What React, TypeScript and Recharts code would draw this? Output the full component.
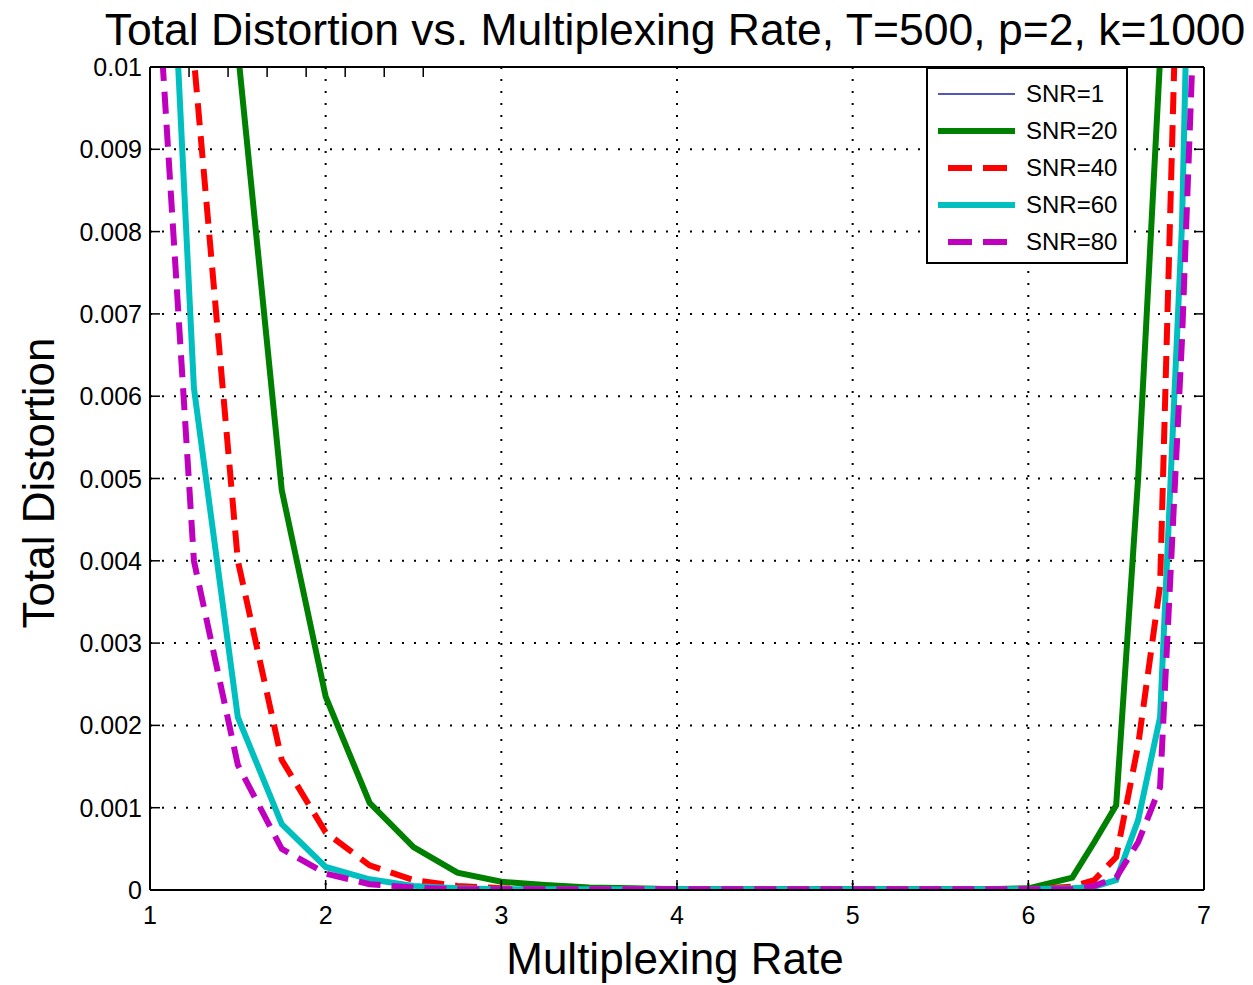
import React from 'react';
import { LineChart, Line, XAxis, YAxis, CartesianGrid, Legend } from 'recharts';

// sample points along the multiplexing rate axis
const multiplexingRate = [
  1, 1.25, 1.5, 1.75, 2, 2.25, 2.5, 2.75, 3, 3.25, 3.5, 3.75, 4, 4.25, 4.5, 4.75, 5, 5.25, 5.5, 5.75, 6, 6.25,
  6.375, 6.5, 6.625, 6.75, 6.875, 7,
];

// SNR=1 sits above 0.01 everywhere, so only its legend entry is visible
const snr20 = [
  0.09, 0.03, 0.0102, 0.00486, 0.00235, 0.00106, 0.00052, 0.00021, 0.0001, 0.00006, 0.00003, 0.00002, 0.00001,
  0.00001, 0.00001, 0.00001, 0.00001, 0.00001, 0.00001, 0.00001, 0.00002, 0.00015, 0.00058, 0.00103, 0.005, 0.0101,
  0.02, 0.04,
];
const snr40 = [
  0.03, 0.0101, 0.004, 0.00158, 0.0007, 0.0003, 0.00012, 0.00005, 0.00002, 0.00001, 0.00001, 0.00001, 0.00001,
  0.00001, 0.00001, 0.00001, 0.00001, 0.00001, 0.00001, 0.00001, 0.00001, 0.00004, 0.00012, 0.0004, 0.00176, 0.0037,
  0.0135, 0.04,
];
const snr60 = [
  0.017, 0.0061, 0.0021, 0.0008, 0.00028, 0.00013, 0.00005, 0.00002, 0.00001, 0.00001, 0.00001, 0.00001, 0.00001,
  0.00001, 0.00001, 0.00001, 0.00001, 0.00001, 0.00001, 0.00001, 0.00001, 0.00002, 0.00004, 0.00012, 0.00085, 0.0021,
  0.0081, 0.02,
];
const snr80 = [
  0.0125, 0.004, 0.00152, 0.0005, 0.0002, 0.00007, 0.00003, 0.00001, 0.00001, 0.00001, 0.00001, 0.00001, 0.00001,
  0.00001, 0.00001, 0.00001, 0.00001, 0.00001, 0.00001, 0.00001, 0.00001, 0.00001, 0.00005, 0.00015, 0.00058, 0.00125,
  0.0067, 0.0139,
];

const xTicks = [1, 2, 3, 4, 5, 6, 7];
const yTicks = [0, 0.001, 0.002, 0.003, 0.004, 0.005, 0.006, 0.007, 0.008, 0.009, 0.01];
const yTickLabels = ['0', '0.001', '0.002', '0.003', '0.004', '0.005', '0.006', '0.007', '0.008', '0.009', '0.01'];

const data = multiplexingRate.map((rate, i) => ({
  rate,
  snr20: snr20[i],
  snr40: snr40[i],
  snr60: snr60[i],
  snr80: snr80[i],
}));

const series = [
  { key: 'snr1', name: 'SNR=1', color: '#1c1ca8', width: 1.5, dash: undefined as string | undefined },
  { key: 'snr20', name: 'SNR=20', color: '#008000', width: 6, dash: undefined },
  { key: 'snr40', name: 'SNR=40', color: '#ff0000', width: 6, dash: '22 11' },
  { key: 'snr60', name: 'SNR=60', color: '#00bfbf', width: 6, dash: undefined },
  { key: 'snr80', name: 'SNR=80', color: '#bf00bf', width: 6, dash: '22 11' },
];

const FONT = '"Liberation Sans", Arial, Helvetica, sans-serif';
const TICK_IN = 10;

const LeftTick = (props: any) => {
  const { x, y, payload } = props;
  const idx = yTicks.indexOf(payload.value);
  return (
    <g>
      <line x1={x} x2={x + TICK_IN} y1={y} y2={y} stroke="#000" strokeWidth={1.5} />
      <text x={x - 8} y={y + 9} textAnchor="end" fontSize={25} fill="#000" fontFamily={FONT}>
        {idx >= 0 ? yTickLabels[idx] : payload.value}
      </text>
    </g>
  );
};

const RightTick = (props: any) => {
  const { x, y } = props;
  return <line x1={x} x2={x - TICK_IN} y1={y} y2={y} stroke="#000" strokeWidth={1.5} />;
};

const BottomTick = (props: any) => {
  const { x, y, payload } = props;
  return (
    <g>
      <line x1={x} x2={x} y1={y} y2={y - TICK_IN} stroke="#000" strokeWidth={1.5} />
      <text x={x} y={y + 34} textAnchor="middle" fontSize={25} fill="#000" fontFamily={FONT}>
        {payload.value}
      </text>
    </g>
  );
};

const TopTick = (props: any) => {
  const { x, y } = props;
  return <line x1={x} x2={x} y1={y} y2={y + TICK_IN} stroke="#000" strokeWidth={1.5} />;
};

const LegendBox = () => (
  <div
    style={{
      width: 202,
      height: 197,
      boxSizing: 'border-box',
      border: '2px solid #000',
      background: '#fff',
      paddingTop: 6,
      fontFamily: FONT,
    }}
  >
    {series.map((s) => (
      <div key={s.key} style={{ display: 'flex', alignItems: 'center', height: 37 }}>
        <svg width={98} height={20} style={{ display: 'block' }}>
          {s.dash ? (
            <line x1={20} x2={81} y1={10} y2={10} stroke={s.color} strokeWidth={s.width} strokeDasharray="24 11" />
          ) : (
            <line x1={10} x2={87} y1={10} y2={10} stroke={s.color} strokeWidth={s.width} />
          )}
        </svg>
        <span style={{ fontSize: 24, lineHeight: '37px', color: '#000' }}>{s.name}</span>
      </div>
    ))}
  </div>
);

export default function App() {
  return (
    <div
      style={{
        position: 'absolute',
        left: 0,
        top: 0,
        width: 1253,
        height: 985,
        background: '#fff',
        fontFamily: FONT,
      }}
    >
      <LineChart width={1253} height={985} data={data} margin={{ top: 57, right: 39, bottom: 55, left: 50 }}>
        <CartesianGrid
          xAxisId="b"
          yAxisId="l"
          stroke="#000"
          strokeWidth={2}
          strokeDasharray="2 10"
          fill="none"
        />
        <XAxis
          xAxisId="b"
          dataKey="rate"
          type="number"
          domain={[1, 7]}
          ticks={xTicks}
          interval={0}
          allowDataOverflow
          height={40}
          tickSize={0}
          tickMargin={0}
          tickLine={false}
          tick={BottomTick}
          axisLine={{ stroke: '#000', strokeWidth: 2 }}
        />
        <XAxis
          xAxisId="t"
          orientation="top"
          type="number"
          domain={[1, 7]}
          ticks={xTicks}
          interval={0}
          allowDataOverflow
          height={10}
          tickSize={0}
          tickMargin={0}
          tickLine={false}
          tick={TopTick}
          axisLine={{ stroke: '#000', strokeWidth: 2 }}
        />
        <YAxis
          yAxisId="l"
          type="number"
          domain={[0, 0.01]}
          ticks={yTicks}
          interval={0}
          allowDataOverflow
          width={100}
          tickSize={0}
          tickMargin={0}
          tickLine={false}
          tick={LeftTick}
          axisLine={{ stroke: '#000', strokeWidth: 2 }}
        />
        <YAxis
          yAxisId="r"
          orientation="right"
          type="number"
          domain={[0, 0.01]}
          ticks={yTicks}
          interval={0}
          allowDataOverflow
          width={10}
          tickSize={0}
          tickMargin={0}
          tickLine={false}
          tick={RightTick}
          axisLine={{ stroke: '#000', strokeWidth: 2 }}
        />
        {series.map((s) => (
          <Line
            key={s.key}
            xAxisId="b"
            yAxisId="l"
            type="linear"
            dataKey={s.key}
            name={s.name}
            stroke={s.color}
            strokeWidth={s.width}
            strokeDasharray={s.dash}
            dot={false}
            activeDot={false}
            isAnimationActive={false}
          />
        ))}
        <Legend
          layout="horizontal"
          verticalAlign="middle"
          align="center"
          content={LegendBox}
          wrapperStyle={{ left: 926, top: 67, width: 202, height: 197 }}
        />
      </LineChart>
      <svg
        width={1253}
        height={985}
        style={{ position: 'absolute', left: 0, top: 0, pointerEvents: 'none' }}
        fontFamily={FONT}
      >
        <text x={675} y={45} textAnchor="middle" fontSize={44.5} fill="#000">
          Total Distortion vs. Multiplexing Rate, T=500, p=2, k=1000
        </text>
        <text x={675} y={974} textAnchor="middle" fontSize={44} fill="#000">
          Multiplexing Rate
        </text>
        <text transform="translate(54,483) rotate(-90)" textAnchor="middle" fontSize={44} fill="#000">
          Total Distortion
        </text>
      </svg>
    </div>
  );
}
